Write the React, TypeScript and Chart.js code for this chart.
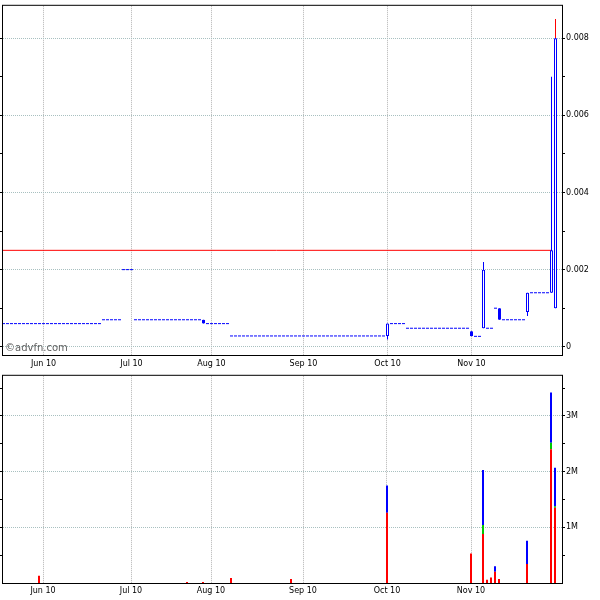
import React, { useEffect, useRef } from "react";
import { Chart, registerables } from "chart.js";
Chart.register(...registerables);

// ---- data (trading-day index on the x axis) ----
const monthDays = [10, 32, 52, 75, 96, 117];
const monthLabels = ["Jun 10", "Jul 10", "Aug 10", "Sep 10", "Oct 10", "Nov 10"];

// runs of days with an unchanged price (drawn as flat dashes)
const flatStart = [0, 25, 30, 33, 51, 57, 97, 101, 118, 121, 123, 125, 132];
const flatEnd = [24, 29, 32, 49, 56, 95, 100, 116, 119, 122, 123, 130, 136];
const flatPrice = [0.0006, 0.0007, 0.002, 0.0007, 0.0006, 0.00028, 0.0006, 0.00048, 0.00027, 0.00048, 0.001, 0.0007, 0.0014];

// days with price movement
const candleDay = [50, 96, 117, 120, 124, 131, 137, 138];
const candleOpen = [0.0007, 0.00028, 0.0004, 0.00048, 0.001, 0.0009, 0.0014, 0.001];
const candleHigh = [0.0007, 0.0006, 0.0004, 0.0022, 0.001, 0.0014, 0.007, 0.0085];
const candleLow = [0.0006, 0.00019, 0.00027, 0.00048, 0.0007, 0.0008, 0.0014, 0.001];
const candleClose = [0.0006, 0.0006, 0.00027, 0.002, 0.0007, 0.0014, 0.0025, 0.008];

const refPrice = 0.0025;
const refEndDay = 137;

const priceTicks = [0, 0.001, 0.002, 0.003, 0.004, 0.005, 0.006, 0.007, 0.008];
const priceMin = -0.0002137;
const priceMax = 0.0088408;

// volume, millions
const volDay = [9, 46, 50, 57, 72, 96, 117, 120, 121, 122, 123, 124, 131, 137, 138];
const volRed = [0.13, 0.02, 0.02, 0.09, 0.07, 1.26, 0.53, 0.88, 0.06, 0.1, 0.2, 0.07, 0.34, 2.4, 1.35];
const volGreen = [0, 0, 0, 0, 0, 0, 0, 0.16, 0, 0, 0, 0, 0, 0.12, 0.03];
const volBlue = [0, 0, 0, 0, 0, 0.49, 0, 0.99, 0, 0, 0.1, 0, 0.42, 0.9, 0.69];
const volTicks = [0.5, 1, 1.5, 2, 2.5, 3, 3.5];
const volMax = 3.721;

const FONT = { family: "DejaVu Sans", size: 8 };
const GRID_V = "#b4b4b4";
const GRID_H = "#a8c0c0";
const BLUE = "#0000ff";

const framePlugin = {
  id: "frame",
  afterDraw(chart: any) {
    const { ctx, chartArea: a } = chart;
    ctx.save();
    ctx.strokeStyle = "#000";
    ctx.lineWidth = 1;
    ctx.strokeRect(a.left - 0.5, a.top - 0.5, a.right - a.left + 1, a.bottom - a.top + 1);
    ctx.restore();
  },
};

const watermarkPlugin = {
  id: "watermark",
  beforeDatasetsDraw(chart: any) {
    const { ctx, chartArea: a } = chart;
    ctx.save();
    ctx.font = "10px 'DejaVu Sans'";
    ctx.fillStyle = "#606060";
    ctx.textBaseline = "alphabetic";
    ctx.fillText("©advfn.com", a.left + 2, a.bottom - 4);
    ctx.restore();
  },
};

function xAxis(min: number, max: number, height: number, pad: number) {
  return {
    type: "linear",
    min,
    max,
    offset: false,
    afterBuildTicks: (s: any) => {
      s.ticks = monthDays.map((v) => ({ value: v }));
    },
    afterFit: (s: any) => {
      s.height = height;
    },
    ticks: {
      autoSkip: false,
      maxRotation: 0,
      padding: pad,
      font: FONT,
      color: "#000",
      callback: (v: number) => monthLabels[monthDays.indexOf(v)] ?? "",
    },
    grid: { color: GRID_V, drawTicks: false, offset: false },
    border: { display: false, dash: [1, 1] },
  };
}

export default function App() {
  const priceRef = useRef<HTMLCanvasElement>(null);
  const volRef = useRef<HTMLCanvasElement>(null);

  useEffect(() => {
    // ---- price chart ----
    const runData: any[] = [];
    flatStart.forEach((s, k) => {
      runData.push({ x: s - 0.375, y: flatPrice[k] });
      runData.push({ x: flatEnd[k] + 0.375, y: flatPrice[k] });
      runData.push({ x: flatEnd[k] + 0.5, y: null });
    });
    const bodyData = candleDay.map((d, k) => ({ x: d, y: [candleOpen[k], candleClose[k]] }));
    const wickData = candleDay.map((d, k) => ({ x: d, y: [candleLow[k], candleHigh[k]] }));
    const last = candleDay.length - 1;
    const redWick = [{ x: candleDay[last], y: [candleClose[last], candleHigh[last]] }];

    const isMajor = (v: number) => Math.round(v * 1000) % 2 === 0;

    const price = new Chart(priceRef.current!, {
      type: "bar",
      data: {
        datasets: [
          {
            type: "bar",
            yAxisID: "y",
            data: bodyData as any,
            grouped: false,
            barThickness: 3,
            inflateAmount: 0,
            borderSkipped: false,
            borderWidth: 1,
            borderColor: BLUE,
            backgroundColor: (c: any) =>
              candleClose[c.dataIndex] >= candleOpen[c.dataIndex] ? "#ffffff" : BLUE,
          } as any,
          {
            type: "bar",
            yAxisID: "y",
            data: redWick as any,
            grouped: false,
            barThickness: 1,
            inflateAmount: 0,
            borderWidth: 0,
            backgroundColor: "#ff0000",
          } as any,
          {
            type: "bar",
            yAxisID: "y",
            data: wickData as any,
            grouped: false,
            barThickness: 1,
            inflateAmount: 0,
            borderWidth: 0,
            backgroundColor: BLUE,
          } as any,
          {
            type: "line",
            yAxisID: "y",
            data: runData,
            borderColor: BLUE,
            borderWidth: 1,
            borderDash: [3, 1],
            pointRadius: 0,
            spanGaps: false,
            tension: 0,
            fill: false,
          } as any,
          {
            type: "line",
            yAxisID: "y",
            data: [
              { x: -0.5, y: refPrice },
              { x: refEndDay, y: refPrice },
            ],
            borderColor: "#ff0000",
            borderWidth: 1,
            pointRadius: 0,
            fill: false,
          } as any,
        ],
      },
      options: {
        responsive: false,
        devicePixelRatio: 1,
        animation: false,
        events: [],
        layout: { padding: { top: 3, left: 0, right: 0, bottom: 0 } },
        plugins: { legend: { display: false }, tooltip: { enabled: false } },
        scales: {
          x: xAxis(-0.125, 139.625, 15, 4) as any,
          y: {
            type: "linear",
            position: "right",
            min: priceMin,
            max: priceMax,
            afterBuildTicks: (s: any) => {
              s.ticks = priceTicks.map((v) => ({ value: v }));
            },
            afterFit: (s: any) => {
              s.width = 38;
            },
            ticks: {
              padding: 1,
              font: FONT,
              color: "#000",
              callback: (v: number) => (isMajor(v) ? (v === 0 ? "0" : v.toFixed(3)) : ""),
            },
            grid: {
              color: (c: any) => (c.tick && isMajor(c.tick.value) ? GRID_H : "rgba(0,0,0,0)"),
              tickColor: "#000",
              drawTicks: true,
              tickLength: 3,
            },
            border: { display: false, dash: [1, 1] },
          },
          yl: {
            type: "linear",
            position: "left",
            min: priceMin,
            max: priceMax,
            afterBuildTicks: (s: any) => {
              s.ticks = priceTicks.map((v) => ({ value: v }));
            },
            afterFit: (s: any) => {
              s.width = 3;
            },
            ticks: { display: false },
            grid: { drawOnChartArea: false, drawTicks: true, tickLength: 3, tickColor: "#000" },
            border: { display: false },
          },
        },
      },
      plugins: [framePlugin, watermarkPlugin],
    } as any);

    // ---- volume chart ----
    const pick = (arr: number[]) =>
      volDay.map((d, k) => ({ x: d, y: arr[k] })).filter((p) => p.y > 0);
    const volBar = (arr: number[], color: string) => ({
      type: "bar",
      yAxisID: "y",
      data: pick(arr),
      grouped: false,
      barThickness: 2,
      inflateAmount: 0,
      borderWidth: 0,
      backgroundColor: color,
    });
    const isInt = (v: number) => Math.abs(v - Math.round(v)) < 1e-9;

    const vol = new Chart(volRef.current!, {
      type: "bar",
      data: {
        datasets: [
          volBar(volRed, "#ff0000"),
          volBar(volGreen, "#00c800"),
          volBar(volBlue, "#0000ff"),
        ] as any,
      },
      options: {
        responsive: false,
        devicePixelRatio: 1,
        animation: false,
        events: [],
        layout: { padding: { top: 2, left: 0, right: 0, bottom: 0 } },
        plugins: { legend: { display: false }, tooltip: { enabled: false } },
        scales: {
          x: { ...(xAxis(0, 139.75, 17, 3) as any), stacked: true },
          y: {
            type: "linear",
            position: "right",
            stacked: true,
            min: 0,
            max: volMax,
            afterBuildTicks: (s: any) => {
              s.ticks = volTicks.map((v) => ({ value: v }));
            },
            afterFit: (s: any) => {
              s.width = 38;
            },
            ticks: {
              padding: 1,
              font: FONT,
              color: "#000",
              callback: (v: number) => (isInt(v) ? `${v}M` : ""),
            },
            grid: {
              color: (c: any) => (c.tick && isInt(c.tick.value) ? GRID_H : "rgba(0,0,0,0)"),
              tickColor: "#000",
              drawTicks: true,
              tickLength: 3,
            },
            border: { display: false, dash: [1, 1] },
          },
          yl: {
            type: "linear",
            position: "left",
            min: 0,
            max: volMax,
            afterBuildTicks: (s: any) => {
              s.ticks = volTicks.map((v) => ({ value: v }));
            },
            afterFit: (s: any) => {
              s.width = 3;
            },
            ticks: { display: false },
            grid: { drawOnChartArea: false, drawTicks: true, tickLength: 3, tickColor: "#000" },
            border: { display: false },
          },
        },
      },
      plugins: [framePlugin],
    } as any);

    return () => {
      price.destroy();
      vol.destroy();
    };
  }, []);

  return (
    <div style={{ position: "fixed", left: 0, top: 0, width: 600, height: 600, background: "#fff" }}>
      <canvas
        ref={priceRef}
        width={600}
        height={370}
        style={{ position: "absolute", left: 0, top: 0, width: 600, height: 370 }}
      />
      <canvas
        ref={volRef}
        width={600}
        height={230}
        style={{ position: "absolute", left: 0, top: 370, width: 600, height: 230 }}
      />
    </div>
  );
}
